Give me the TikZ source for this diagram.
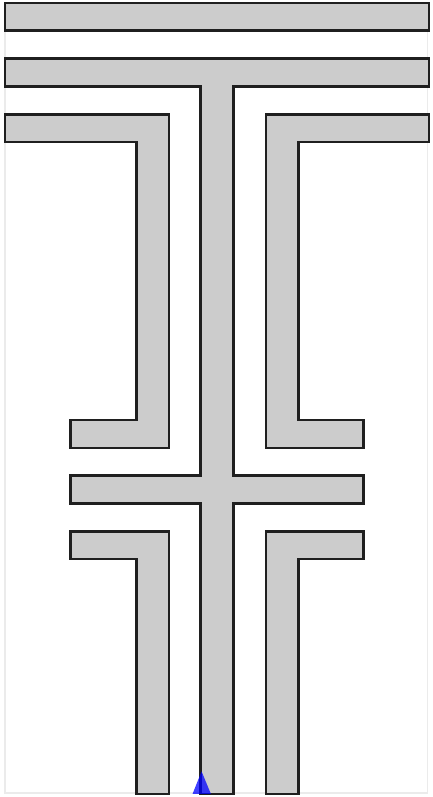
\documentclass[tikz,border=0pt]{standalone}
\usetikzlibrary{calc}

\begin{document}
\begin{tikzpicture}[x=32.6pt,y=-27.8pt,
  wall/.style={fill=black!20,draw=black!88,line width=2.6pt,line join=miter},
  frame/.style={draw=black!8,line width=1.2pt}]
\useasboundingbox (-5pt,3pt) rectangle (427pt,-794pt);
% outer frame
\draw[frame] (0,0) rectangle (12.97,28.42);
% top bars
\draw[wall] (0,0) rectangle (13,1);
\draw[wall] (0,2) -- (13,2) -- (13,3) -- (7,3) -- (7,17) -- (11,17) -- (11,18) -- (7,18)
  -- (7,28.45) -- (6,28.45) -- (6,18) -- (2,18) -- (2,17) -- (6,17) -- (6,3) -- (0,3) -- cycle;
% upper brackets
\draw[wall] (0,4) -- (5.03,4) -- (5.03,16) -- (2,16) -- (2,15) -- (4.04,15) -- (4.04,5) -- (0,5) -- cycle;
\draw[wall] (13,4) -- (8,4) -- (8,16) -- (11,16) -- (11,15) -- (9,15) -- (9,5) -- (13,5) -- cycle;
% lower brackets
\draw[wall] (2,19) -- (5.03,19) -- (5.03,28.45) -- (4.04,28.45) -- (4.04,20) -- (2,20) -- cycle;
\draw[wall] (11,19) -- (8,19) -- (8,28.45) -- (9,28.45) -- (9,20) -- (11,20) -- cycle;
% start marker
\coordinate (start) at (6.03,28.45);
\fill[blue,opacity=0.75] ($(start)+(-9pt,0)$) -- ($(start)+(0,22.5pt)$) -- ($(start)+(9.3pt,0)$) -- cycle;
\end{tikzpicture}
\end{document}
